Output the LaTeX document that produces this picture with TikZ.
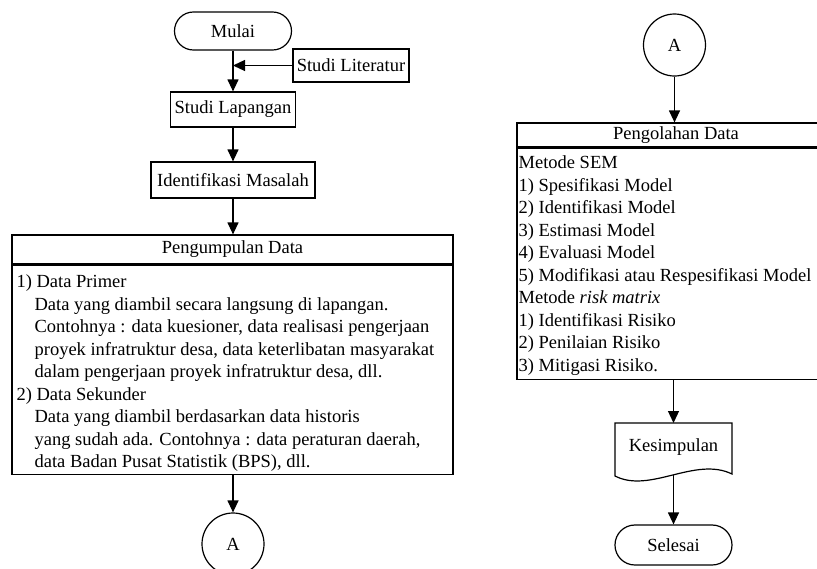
\documentclass[tikz,border=0pt]{standalone}
\usepackage{fontspec}
\setmainfont{Liberation Serif}
\usetikzlibrary{arrows.meta,calc}
\begin{document}
\begin{tikzpicture}[x=1pt,y=-1pt,
  every node/.style={font=\fontsize{18.5pt}{22.5pt}\selectfont},
  box/.style={draw, line width=1.2pt, rectangle, inner sep=0pt},
  term/.style={draw, line width=1.2pt, rectangle, rounded corners=18.9pt, minimum width=117pt, minimum height=38pt, inner sep=0pt},
  conn/.style={draw, circle, line width=1.2pt, minimum size=62pt, inner sep=0pt},
  arr/.style={line width=1.2pt, -{Triangle[length=12pt,width=11pt]}},
  txt/.style={anchor=north west, inner sep=0pt, align=left},
  doc/.style={draw, line width=1.2pt}
]
\clip (0,0) rectangle (817,568);
\fill[white] (0,0) rectangle (817,568);

% left column
\node[term] (mulai) at (233,31) {Mulai};
\node[box, minimum width=116pt, minimum height=33pt] (lit) at (351,65.5) {Studi Literatur};
\node[box, minimum width=125pt, minimum height=35pt] (lap) at (233,109.5) {Studi Lapangan};
\node[box, minimum width=164pt, minimum height=36pt] (idm) at (233,180) {Identifikasi Masalah};
\node[box, minimum width=441pt, minimum height=29pt] (h1) at (232.5,249.5) {Pengumpulan Data};
\node[box, minimum width=441pt, minimum height=209pt, anchor=north] (b1) at (h1.south) {};
\node[txt] (t1) at ($(b1.north west)+(5,10)$) {1) Data Primer\\
\hspace*{18pt}Data yang diambil secara langsung di lapangan.\\
\hspace*{18pt}Contohnya : data kuesioner, data realisasi pengerjaan\\
\hspace*{18pt}proyek infratruktur desa, data keterlibatan masyarakat\\
\hspace*{18pt}dalam pengerjaan proyek infratruktur desa, dll.\\
2) Data Sekunder\\
\hspace*{18pt}Data yang diambil berdasarkan data historis\\
\hspace*{18pt}yang sudah ada. Contohnya : data peraturan daerah,\\
\hspace*{18pt}data Badan Pusat Statistik (BPS), dll.};
\node[conn] (a1) at (233,544) {A};

\draw[arr] (mulai.south) -- (lap.north);
\draw[arr] (lit.west) -- (lit.west -| mulai.south);
\draw[arr] (lap.south) -- (idm.north);
\draw[arr] (idm.south) -- (idm.south |- h1.north);
\draw[arr] (b1.south -| a1.north) -- (a1.north);

% right column
\node[conn] (a2) at (674.5,45) {A};
\node[box, minimum width=318pt, minimum height=24pt] (h2) at (676,135) {Pengolahan Data};
\node[box, minimum width=318pt, minimum height=231pt, anchor=north] (b2) at (h2.south) {};
\node[txt] (t2) at ($(b2.north west)+(2,8)$) {Metode SEM\\
1) Spesifikasi Model\\
2) Identifikasi Model\\
3) Estimasi Model\\
4) Evaluasi Model\\
5) Modifikasi atau Respesifikasi Model\\
Metode \textit{risk matrix}\\
1) Identifikasi Risiko\\
2) Penilaian Risiko\\
3) Mitigasi Risiko.};
\draw[doc] (615,423) -- (732,423) -- (732,474) .. controls (695,456) and (650,494) .. (615,476) -- cycle;
\node[inner sep=0pt] (kes) at (673.5,447) {Kesimpulan};
\coordinate (kesb) at (673.5,475);
\coordinate (kest) at (673.5,423);
\node[term, minimum height=40pt, rounded corners=19.9pt] (sel) at (673.5,545) {Selesai};

\draw[arr] (a2.south) -- (a2.south |- h2.north);
\draw[arr] (b2.south -| kest) -- (kest);
\draw[arr] (kesb) -- (sel.north);
\end{tikzpicture}
\end{document}
